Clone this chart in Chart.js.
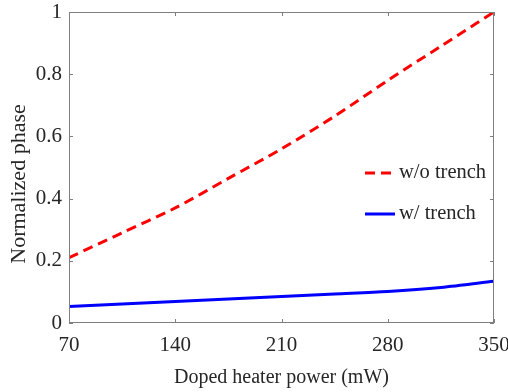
<!DOCTYPE html>
<html>
<head>
<meta charset="utf-8">
<script src="https://cdn.jsdelivr.net/npm/chart.js@4/dist/chart.umd.min.js"></script>
<style>
  html, body { margin: 0; padding: 0; background: #fff; }
  #wrap { width: 508px; height: 392px; }
</style>
</head>
<body>
<div id="wrap"><canvas id="chart" width="508" height="392"></canvas></div>
<script>
const power = [70, 105, 140, 175, 210, 245, 280, 315, 350];
const sinTrench = [0.21, 0.29, 0.37, 0.465, 0.56, 0.665, 0.78, 0.89, 1.0];
const conTrench = [0.053, 0.061, 0.069, 0.077, 0.085, 0.093, 0.101, 0.114, 0.134];
const xTicks = [70, 140, 210, 280, 350];
const yTicks = [0, 0.2, 0.4, 0.6, 0.8, 1];

const fuente = "'Liberation Serif', 'Times New Roman', serif";
const gris = "#7f7f7f";
const texto = "#262626";

const puntos = (ys) => power.map((x, i) => ({ x: x, y: ys[i] }));

// caja, ticks hacia dentro, titulo del eje y y leyenda dentro del grafico
const marco = {
  id: "marco",
  afterDraw(chart) {
    const c = chart.ctx;
    const a = chart.chartArea;
    const sx = chart.scales.x, sy = chart.scales.y;
    c.save();
    c.strokeStyle = gris;
    c.lineWidth = 1;
    c.strokeRect(a.left + 0.5, a.top + 0.5, a.right - a.left - 1, a.bottom - a.top - 1);
    c.beginPath();
    xTicks.forEach(v => {
      const px = Math.round(sx.getPixelForValue(v)) + 0.5;
      c.moveTo(px, a.bottom); c.lineTo(px, a.bottom - 4);
      c.moveTo(px, a.top); c.lineTo(px, a.top + 4);
    });
    yTicks.forEach(v => {
      const py = Math.round(sy.getPixelForValue(v)) + 0.5;
      c.moveTo(a.left, py); c.lineTo(a.left + 4, py);
      c.moveTo(a.right, py); c.lineTo(a.right - 4, py);
    });
    c.stroke();

    // titulo eje y
    c.save();
    c.translate(19, a.top + 172);
    c.rotate(-Math.PI / 2);
    c.fillStyle = texto;
    c.font = "22px " + fuente;
    c.textAlign = "center";
    c.textBaseline = "middle";
    c.fillText("Normalized phase", 0, 0);
    c.restore();

    // leyenda
    const x0 = a.right - 129;
    const filas = [a.top + 161, a.top + 202];
    chart.data.datasets.forEach((ds, i) => {
      const y = filas[i];
      c.strokeStyle = ds.borderColor;
      c.lineWidth = ds.borderWidth;
      c.setLineDash(ds.borderDash || []);
      c.beginPath();
      c.moveTo(x0, y); c.lineTo(x0 + 30, y);
      c.stroke();
      c.setLineDash([]);
      c.fillStyle = texto;
      c.font = "20.5px " + fuente;
      c.textBaseline = "middle";
      c.textAlign = "left";
      c.fillText(ds.label, x0 + 34, y);
    });
    c.restore();
  }
};

const ctx = document.getElementById("chart").getContext("2d");
const data = {
  datasets: [{
    label: "w/o trench",
    data: puntos(sinTrench),
    borderColor: "#ff0000",
    borderWidth: 3,
    borderDash: [10, 6],
    pointRadius: 0,
    tension: 0.3,
    fill: false
  }, {
    label: "w/ trench",
    data: puntos(conTrench),
    borderColor: "#0000ff",
    borderWidth: 3,
    pointRadius: 0,
    tension: 0.3,
    fill: false
  }]
};
const config = {
  type: "line",
  data: data,
  options: {
    responsive: false,
    animation: false,
    layout: { padding: { top: 12, right: 14, left: 0, bottom: 0 } },
    plugins: {
      legend: { display: false },
      tooltip: { enabled: false }
    },
    scales: {
      x: {
        type: "linear",
        min: 70,
        max: 350,
        afterBuildTicks: (s) => { s.ticks = xTicks.map(v => ({ value: v })); },
        afterFit: (s) => { s.height = 69; s.paddingLeft = 0; s.paddingRight = 0; },
        grid: { display: false, drawTicks: false },
        border: { display: false },
        ticks: { color: texto, padding: 10, maxRotation: 0, font: { family: fuente, size: 21 } },
        title: {
          display: true,
          text: "Doped heater power (mW)",
          color: texto,
          padding: { top: 0, bottom: 2 },
          font: { family: fuente, size: 20 }
        }
      },
      y: {
        min: 0,
        max: 1,
        afterBuildTicks: (s) => { s.ticks = yTicks.map(v => ({ value: v })); },
        afterFit: (s) => { s.width = 69; s.paddingTop = 0; s.paddingBottom = 0; },
        grid: { display: false, drawTicks: false },
        border: { display: false },
        ticks: {
          color: texto,
          padding: 7,
          font: { family: fuente, size: 21 },
          callback: (v) => String(v)
        },
        title: { display: false }
      }
    }
  },
  plugins: [marco]
};

const chart = new Chart(ctx, config);
</script>
</body>
</html>
